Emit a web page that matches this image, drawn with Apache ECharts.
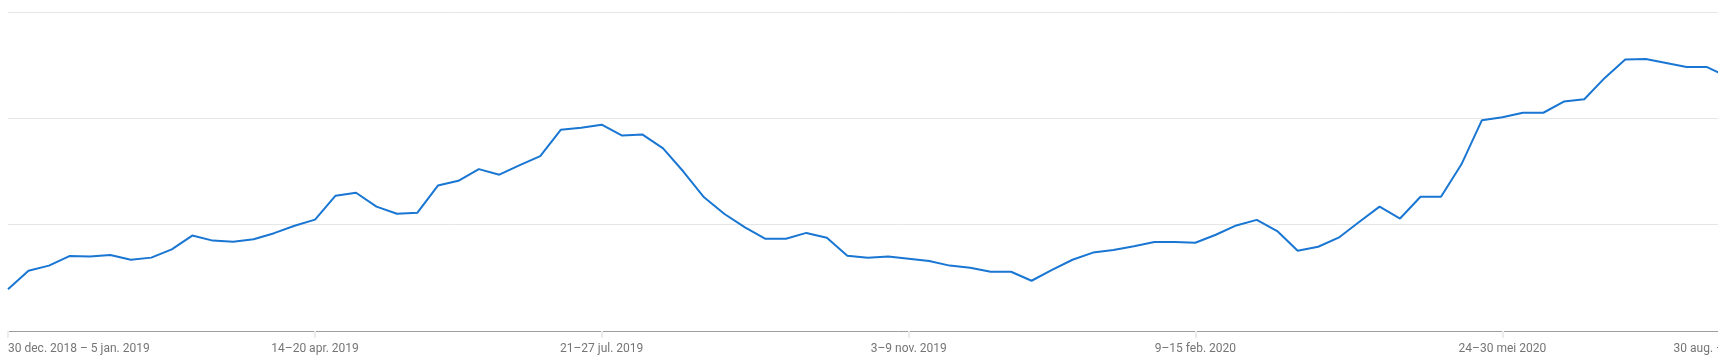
<!DOCTYPE html>
<html>
<head>
<meta charset="utf-8">
<script src="https://cdn.jsdelivr.net/npm/echarts@6/dist/echarts.min.js"></script>
<style>
  html, body { margin: 0; padding: 0; background: #fff; overflow: hidden; width: 1718px; height: 364px; }
  #chart { width: 1920px; height: 364px; }
</style>
</head>
<body>
<div id="chart"></div>
<script>
// Weekly interest values (week 0 = 30 dec. 2018 – 5 jan. 2019)
const weekValues = [
  15.7, 22.7, 24.6, 28.2, 28.0, 28.6, 26.8, 27.6, 30.7, 35.9,
  34.0, 33.6, 34.5, 36.8, 39.6, 41.9, 50.9, 52.0, 46.8, 44.1,
  44.5, 54.7, 56.5, 60.9, 58.8, 62.4, 65.8, 75.7, 76.5, 77.6,
  73.5, 73.9, 68.7, 59.9, 50.3, 44.0, 39.0, 34.7, 34.7, 36.9,
  35.1, 28.3, 27.6, 28.0, 27.2, 26.3, 24.6, 23.8, 22.3, 22.3,
  18.9, 23.0, 26.8, 29.5, 30.5, 31.9, 33.5, 33.5, 33.2, 36.2,
  39.7, 41.8, 37.6, 30.2, 31.7, 35.1, 41.0, 46.8, 42.3, 50.5,
  50.5, 62.7, 79.3, 80.4, 82.1, 82.1, 86.3, 87.2, 95.2, 102.1,
  102.3, 100.8, 99.3, 99.3, 95.6
];
// Week indices that carry a tick label
const tickWeeks = [0, 15, 29, 44, 58, 73, 87];
const weekCount = 88;
const firstWeekStart = [2018, 11, 30]; // 30 dec. 2018
const monthsNl = ['jan.', 'feb.', 'mrt.', 'apr.', 'mei', 'jun.', 'jul.', 'aug.', 'sep.', 'okt.', 'nov.', 'dec.'];

function weekLabel(start) {
  const end = new Date(start.getTime() + 6 * 86400000);
  const d1 = start.getUTCDate(), m1 = start.getUTCMonth(), y1 = start.getUTCFullYear();
  const d2 = end.getUTCDate(), m2 = end.getUTCMonth(), y2 = end.getUTCFullYear();
  if (y1 !== y2) return d1 + ' ' + monthsNl[m1] + ' ' + y1 + ' – ' + d2 + ' ' + monthsNl[m2] + ' ' + y2;
  if (m1 !== m2) return d1 + ' ' + monthsNl[m1] + ' – ' + d2 + ' ' + monthsNl[m2] + ' ' + y2;
  return d1 + '–' + d2 + ' ' + monthsNl[m2] + ' ' + y2;
}
const categories = [];
for (let i = 0; i < weekCount; i++) {
  const s = new Date(Date.UTC(firstWeekStart[0], firstWeekStart[1], firstWeekStart[2]) + i * 7 * 86400000);
  categories.push(weekLabel(s));
}

const chart = echarts.init(document.getElementById('chart'), null, { renderer: 'canvas' });
const showTick = (idx) => tickWeeks.indexOf(idx) !== -1;
chart.setOption({
  animation: false,
  grid: { left: 8, top: 12, width: 1781, bottom: 33, containLabel: false },
  xAxis: {
    type: 'category',
    data: categories,
    boundaryGap: false,
    axisLine: { show: true, lineStyle: { color: '#9e9e9e', width: 1 } },
    axisTick: { show: true, interval: showTick, length: 7, lineStyle: { color: '#ececec', width: 2 } },
    axisLabel: {
      show: true,
      interval: showTick,
      showMinLabel: true,
      showMaxLabel: true,
      hideOverlap: false,
      alignMinLabel: 'left',
      alignMaxLabel: 'right',
      margin: 12,
      color: '#757575',
      fontFamily: 'Roboto',
      fontSize: 12
    },
    splitLine: { show: false }
  },
  yAxis: {
    type: 'value',
    min: 0,
    max: 120,
    interval: 40,
    axisLine: { show: false },
    axisTick: { show: false },
    axisLabel: { show: false },
    splitLine: { show: true, lineStyle: { color: '#e6e6e6', width: 1 } }
  },
  series: [{
    type: 'line',
    data: weekValues,
    showSymbol: false,
    symbol: 'none',
    lineStyle: { color: '#1976d2', width: 2 },
    itemStyle: { color: '#1976d2' }
  }]
});
</script>
</body>
</html>
